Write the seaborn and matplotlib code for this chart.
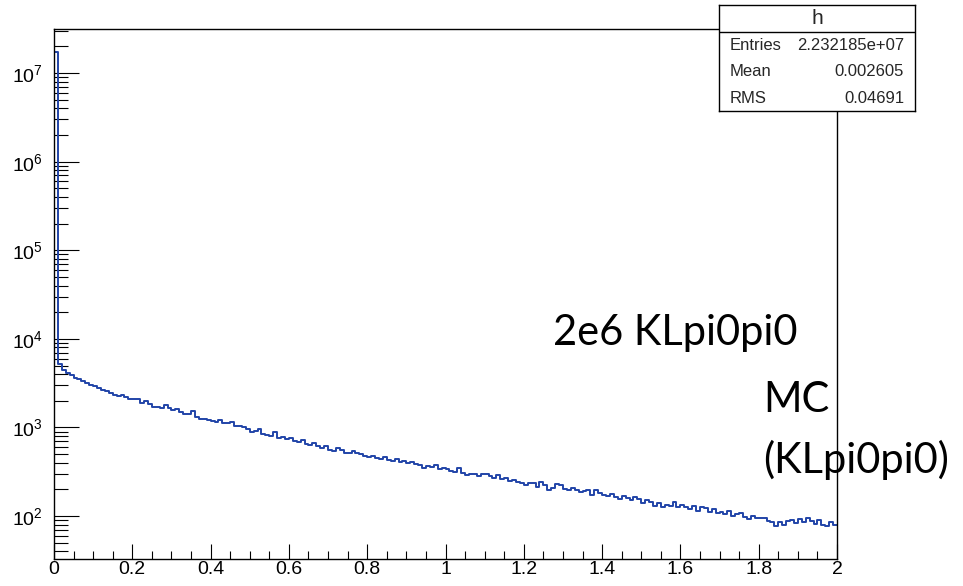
import numpy as np
import pandas as pd
import matplotlib
matplotlib.use("Agg")
import matplotlib.pyplot as plt
import seaborn as sns
from matplotlib.ticker import (MultipleLocator, NullFormatter, FixedLocator,
                               FixedFormatter, LogFormatterSciNotation)

# Histogram definition: 200 bins between 0 and 2
x_min = 0.0
x_max = 2.0
n_bins = 200

# Bin contents (per 0.1 block, 10 bins each)
counts = [
    17400000, 5200, 4400, 4150, 3950, 3650, 3480, 3350, 3200, 3050,
    2930, 2800, 2650, 2560, 2450, 2310, 2290, 2300, 2180, 2120,
    2100, 2090, 1880, 1990, 1860, 1720, 1700, 1650, 1780, 1640,
    1570, 1600, 1490, 1420, 1430, 1520, 1300, 1250, 1260, 1200,
    1180, 1150, 1210, 1110, 1130, 1160, 1030, 1040, 1010, 960,
    900, 920, 960, 850, 830, 810, 880, 770, 790, 740,
    760, 700, 690, 730, 650, 640, 660, 620, 590, 610,
    560, 540, 590, 550, 520, 510, 545, 520, 500, 480,
    470, 480, 455, 445, 470, 430, 420, 435, 410, 415,
    400, 405, 390, 380, 345, 370, 360, 375, 340, 350,
    340, 320, 315, 345, 310, 290, 300, 295, 285, 300,
    295, 280, 270, 290, 265, 270, 250, 255, 240, 235,
    225, 235, 238, 215, 240, 225, 195, 210, 230, 222,
    200, 195, 205, 198, 185, 190, 195, 175, 195, 180,
    175, 170, 178, 165, 155, 170, 160, 150, 165, 155,
    140, 150, 145, 130, 140, 128, 135, 130, 145, 128,
    132, 125, 120, 130, 115, 128, 122, 110, 120, 108,
    112, 105, 115, 100, 105, 108, 98, 92, 100, 95,
    95, 95, 88, 86, 78, 85, 80, 88, 90, 83,
    92, 85, 95, 88, 82, 90, 80, 78, 85, 80,
]

x_ticks = [0, 0.2, 0.4, 0.6, 0.8, 1.0, 1.2, 1.4, 1.6, 1.8, 2.0]
x_tick_labels = ["0", "0.2", "0.4", "0.6", "0.8", "1", "1.2", "1.4", "1.6", "1.8", "2"]
y_decades = [1e2, 1e3, 1e4, 1e5, 1e6, 1e7]
y_limits = (33, 3.15e7)

stats_title = "h"
stats_labels = ["Entries", "Mean", "RMS"]
stats_values = ["2.232185e+07", "0.002605", "0.04691"]

note_main = "2e6 KLpi0pi0"
note_mc = "MC"
note_sample = "(KLpi0pi0)"

line_color = "#2144a8"

sns.set_style("ticks")
plt.rcParams["font.family"] = ["Liberation Sans", "DejaVu Sans"]
plt.rcParams["mathtext.default"] = "regular"

W, H = 963, 586
fig = plt.figure(figsize=(W / 100, H / 100), dpi=100)


def fx(px):
    return px / W


def fy(py):
    return 1 - py / H


# Main frame
left, right, top, bottom = 54, 837, 29, 558.7
ax = fig.add_axes([fx(left), fy(bottom), fx(right - left), (bottom - top) / H])

bin_width = (x_max - x_min) / n_bins
centers = x_min + bin_width * (np.arange(n_bins) + 0.5)
df = pd.DataFrame({"x": centers, "n": counts})

sns.histplot(data=df, x="x", weights="n", binwidth=bin_width, binrange=(x_min, x_max),
             element="step", fill=False, color=line_color, linewidth=1.4, ax=ax)
ax.set_yscale("log")
ax.set_xlim(x_min, x_max)
ax.set_ylim(*y_limits)
ax.set_xlabel("")
ax.set_ylabel("")

for s in ax.spines.values():
    s.set_visible(True)
    s.set_color("black")
    s.set_linewidth(1.0)

# Log minor ticks (2..9 per decade) that fall inside the frame
minor_ticks = [m * d for d in [10] + y_decades for m in range(2, 10)]
minor_ticks = [t for t in minor_ticks if y_limits[0] <= t <= y_limits[1]]

ax.xaxis.set_major_locator(FixedLocator(x_ticks))
ax.xaxis.set_major_formatter(FixedFormatter(x_tick_labels))
ax.xaxis.set_minor_locator(MultipleLocator(0.05))
ax.yaxis.set_major_locator(FixedLocator(y_decades))
ax.yaxis.set_major_formatter(LogFormatterSciNotation())
ax.yaxis.set_minor_locator(FixedLocator(minor_ticks))
ax.yaxis.set_minor_formatter(NullFormatter())

ax.tick_params(axis="both", which="both", direction="in", top=False, right=False,
               colors="black", width=0.8, labelsize=14)
ax.tick_params(axis="y", which="major", length=18, pad=8)
ax.tick_params(axis="y", which="minor", length=10)
ax.tick_params(axis="x", which="major", length=11, pad=2)
ax.tick_params(axis="x", which="minor", length=6)

# Statistics box
bx0, bx1, by0, by1 = 719.3, 915, 4.7, 110.7
sax = fig.add_axes([fx(bx0), fy(by1), fx(bx1 - bx0), (by1 - by0) / H], zorder=5)
sax.set_facecolor("white")
sax.set_xticks([])
sax.set_yticks([])
for s in sax.spines.values():
    s.set_color("black")
    s.set_linewidth(1.0)
sax.set_xlim(bx0, bx1)
sax.set_ylim(by1, by0)
sax.axhline(31.7, color="black", linewidth=1.0)
sax.text((bx0 + bx1) / 2, 19.0, stats_title, ha="center", va="center", fontsize=15)
for i, (lab, val) in enumerate(zip(stats_labels, stats_values)):
    yy = 45.5 + i * 26.3
    sax.text(730, yy, lab, ha="left", va="center", fontsize=12)
    sax.text(904, yy, val, ha="right", va="center", fontsize=12)

# Annotations
note_font = ["Lato", "DejaVu Sans"]
fig.text(fx(553.3), fy(345), note_main, ha="left", va="baseline", fontsize=30,
         family=note_font, color="black", zorder=10)
fig.text(fx(763), fy(411.7), note_mc, ha="left", va="baseline", fontsize=30,
         family=note_font, color="black", zorder=10)
fig.text(fx(763), fy(473.3), note_sample, ha="left", va="baseline", fontsize=30,
         family=note_font, color="black", zorder=10)

fig.savefig("out.png", dpi=100)
